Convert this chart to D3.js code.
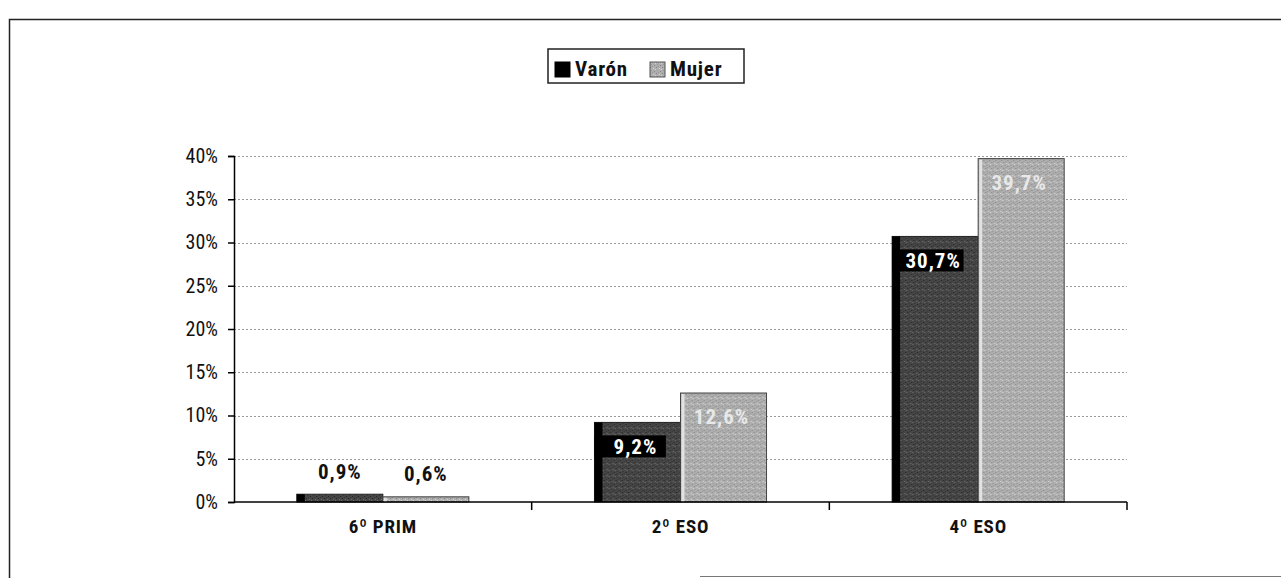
<!DOCTYPE html>
<html>
<head>
<meta charset="utf-8">
<script src="https://cdn.jsdelivr.net/npm/d3@7"></script>
<style>
  body { margin: 0; background: #fff; }
  svg { display: block; }
</style>
</head>
<body>
<svg id="chart"></svg>
<script>
"use strict";

var categories = ["6º PRIM", "2º ESO", "4º ESO"];
var series = ["Varón", "Mujer"];
var varon = [0.9, 9.2, 30.7];
var mujer = [0.6, 12.6, 39.7];
var yTicks = [0, 5, 10, 15, 20, 25, 30, 35, 40];

var width = 1281
  , height = 578
  , x0 = 234
  , x1 = 1127
  , yBottom = 502
  , yTop = 156
  , narrow = "'Liberation Sans Narrow', 'Arial Narrow', 'Roboto Condensed', sans-serif";

var svg = d3.select("#chart")
  .attr("width", width)
  .attr("height", height);

// scanned-looking textures
var defs = svg.append("defs");

function noisePattern(id, base, colors) {
  var p = defs.append("pattern")
    .attr("id", id)
    .attr("width", 6)
    .attr("height", 6)
    .attr("patternUnits", "userSpaceOnUse");
  p.append("rect").attr("width", 6).attr("height", 6).attr("fill", base);
  var spots = [[0, 0], [3, 1], [1, 3], [4, 4], [5, 2], [2, 5]];
  spots.forEach(function (s, i) {
    p.append("rect")
      .attr("x", s[0]).attr("y", s[1])
      .attr("width", 1).attr("height", 1)
      .attr("fill", colors[i % colors.length]);
  });
}
noisePattern("tex-varon", "#464646", ["#222", "#6e6e6e", "#333"]);
noisePattern("tex-mujer", "#aeaeae", ["#858585", "#d6d6d6", "#979797"]);

// outer frame
svg.append("path")
  .attr("d", "M9.5,578 V19.5 H1281")
  .attr("fill", "none")
  .attr("stroke", "#222")
  .attr("stroke-width", 1.5);
svg.append("line")
  .attr("x1", 700).attr("x2", 1281)
  .attr("y1", 576.5).attr("y2", 576.5)
  .attr("stroke", "#777");

var x = d3.scaleBand().domain(categories).range([x0, x1]);
var xs = d3.scaleBand().domain(series).range([0, x.bandwidth()]).paddingInner(0).paddingOuter(0.73);
var y = d3.scaleLinear().domain([0, 40]).range([yBottom, yTop]);

// gridlines
svg.append("g")
  .selectAll("line")
  .data(yTicks.slice(1))
  .enter()
  .append("line")
  .attr("x1", x0).attr("x2", x1)
  .attr("y1", function (d) { return Math.round(y(d)) + 0.5; })
  .attr("y2", function (d) { return Math.round(y(d)) + 0.5; })
  .attr("stroke", "#9a9a9a")
  .attr("stroke-dasharray", "2,2");

// y axis
var yAxis = svg.append("g")
  .attr("transform", "translate(" + x0 + ",0)")
  .call(d3.axisLeft(y).tickValues(yTicks).tickSize(6).tickPadding(10)
    .tickFormat(function (d) { return d + "%"; }));
yAxis.select(".domain").attr("stroke", "#000").attr("stroke-width", 1.5);
yAxis.selectAll(".tick line").attr("stroke", "#000").attr("stroke-width", 1.5);
yAxis.selectAll(".tick text")
  .attr("font-family", narrow)
  .attr("font-size", 20)
  .attr("fill", "#111");

// bars
var groups = svg.append("g")
  .selectAll("g")
  .data(categories)
  .enter()
  .append("g")
  .attr("transform", function (d) { return "translate(" + x(d) + ",0)"; });

groups.each(function (c, i) {
  var g = d3.select(this);
  var vals = [varon[i], mujer[i]];
  vals.forEach(function (v, j) {
    var bx = xs(series[j])
      , bw = xs.bandwidth()
      , by = y(v)
      , bh = yBottom - y(v);
    if (j === 0) {
      g.append("rect")
        .attr("x", bx).attr("y", by).attr("width", bw).attr("height", bh)
        .attr("fill", "url(#tex-varon)")
        .attr("stroke", "#222").attr("stroke-width", 1);
      g.append("rect")
        .attr("x", bx).attr("y", by).attr("width", Math.min(8, bw)).attr("height", bh)
        .attr("fill", "#000");
    } else {
      g.append("rect")
        .attr("x", bx).attr("y", by).attr("width", bw).attr("height", bh)
        .attr("fill", "url(#tex-mujer)")
        .attr("stroke", "#444").attr("stroke-width", 1);
      g.append("rect")
        .attr("x", bx + 1).attr("y", by + 1).attr("width", 3).attr("height", Math.max(0, bh - 1))
        .attr("fill", "#e2e2e2");
    }
  });
});

// value labels
groups.each(function (c, i) {
  var g = d3.select(this);
  var vals = [varon[i], mujer[i]];
  vals.forEach(function (v, j) {
    var bx = xs(series[j])
      , bw = xs.bandwidth()
      , label = String(v).replace(".", ",") + "%";
    var small = v < 3;
    var cy = small ? y(v) - 23 : y(v) + 24;
    if (!small && j === 0) {
      g.append("rect")
        .attr("x", bx).attr("y", cy - 11)
        .attr("width", bw * 0.83).attr("height", 22)
        .attr("fill", "#000");
    }
    g.append("text")
      .attr("x", bx + bw / 2 - (small ? 0 : 2))
      .attr("y", cy)
      .attr("dy", "0.35em")
      .attr("text-anchor", "middle")
      .attr("font-family", narrow)
      .attr("font-weight", "bold")
      .attr("font-size", 21)
      .attr("letter-spacing", 1)
      .attr("fill", small ? "#111" : (j === 0 ? "#fff" : "#e8e8e8"))
      .text(label);
  });
});

// x axis
var xAxis = svg.append("g")
  .attr("transform", "translate(0," + yBottom + ")");
xAxis.append("line")
  .attr("x1", x0).attr("x2", x1)
  .attr("stroke", "#000").attr("stroke-width", 1.5);
xAxis.selectAll(".sep")
  .data(categories)
  .enter()
  .append("line")
  .attr("class", "sep")
  .attr("x1", function (d) { return x(d) + x.bandwidth(); })
  .attr("x2", function (d) { return x(d) + x.bandwidth(); })
  .attr("y1", 0).attr("y2", 8)
  .attr("stroke", "#000").attr("stroke-width", 1.5);
xAxis.selectAll("text")
  .data(categories)
  .enter()
  .append("text")
  .attr("x", function (d) { return x(d) + x.bandwidth() / 2; })
  .attr("y", 24)
  .attr("dy", "0.35em")
  .attr("text-anchor", "middle")
  .attr("font-family", narrow)
  .attr("font-weight", "bold")
  .attr("font-size", 19)
  .attr("letter-spacing", 0.8)
  .attr("fill", "#111")
  .text(function (d) { return d; });

// legend
var legend = svg.append("g").attr("transform", "translate(548,49)");
legend.append("rect")
  .attr("width", 196).attr("height", 34)
  .attr("fill", "#fff")
  .attr("stroke", "#222").attr("stroke-width", 1.5);
var legendX = [7, 102];
series.forEach(function (s, i) {
  legend.append("rect")
    .attr("x", legendX[i]).attr("y", 13)
    .attr("width", 15).attr("height", 15)
    .attr("fill", i === 0 ? "#000" : "url(#tex-mujer)")
    .attr("stroke", i === 0 ? "#000" : "#555");
  legend.append("text")
    .attr("x", legendX[i] + 20).attr("y", 20)
    .attr("dy", "0.35em")
    .attr("font-family", narrow)
    .attr("font-weight", "bold")
    .attr("font-size", 21)
    .attr("letter-spacing", 0.8)
    .attr("fill", "#111")
    .text(s);
});
</script>
</body>
</html>
